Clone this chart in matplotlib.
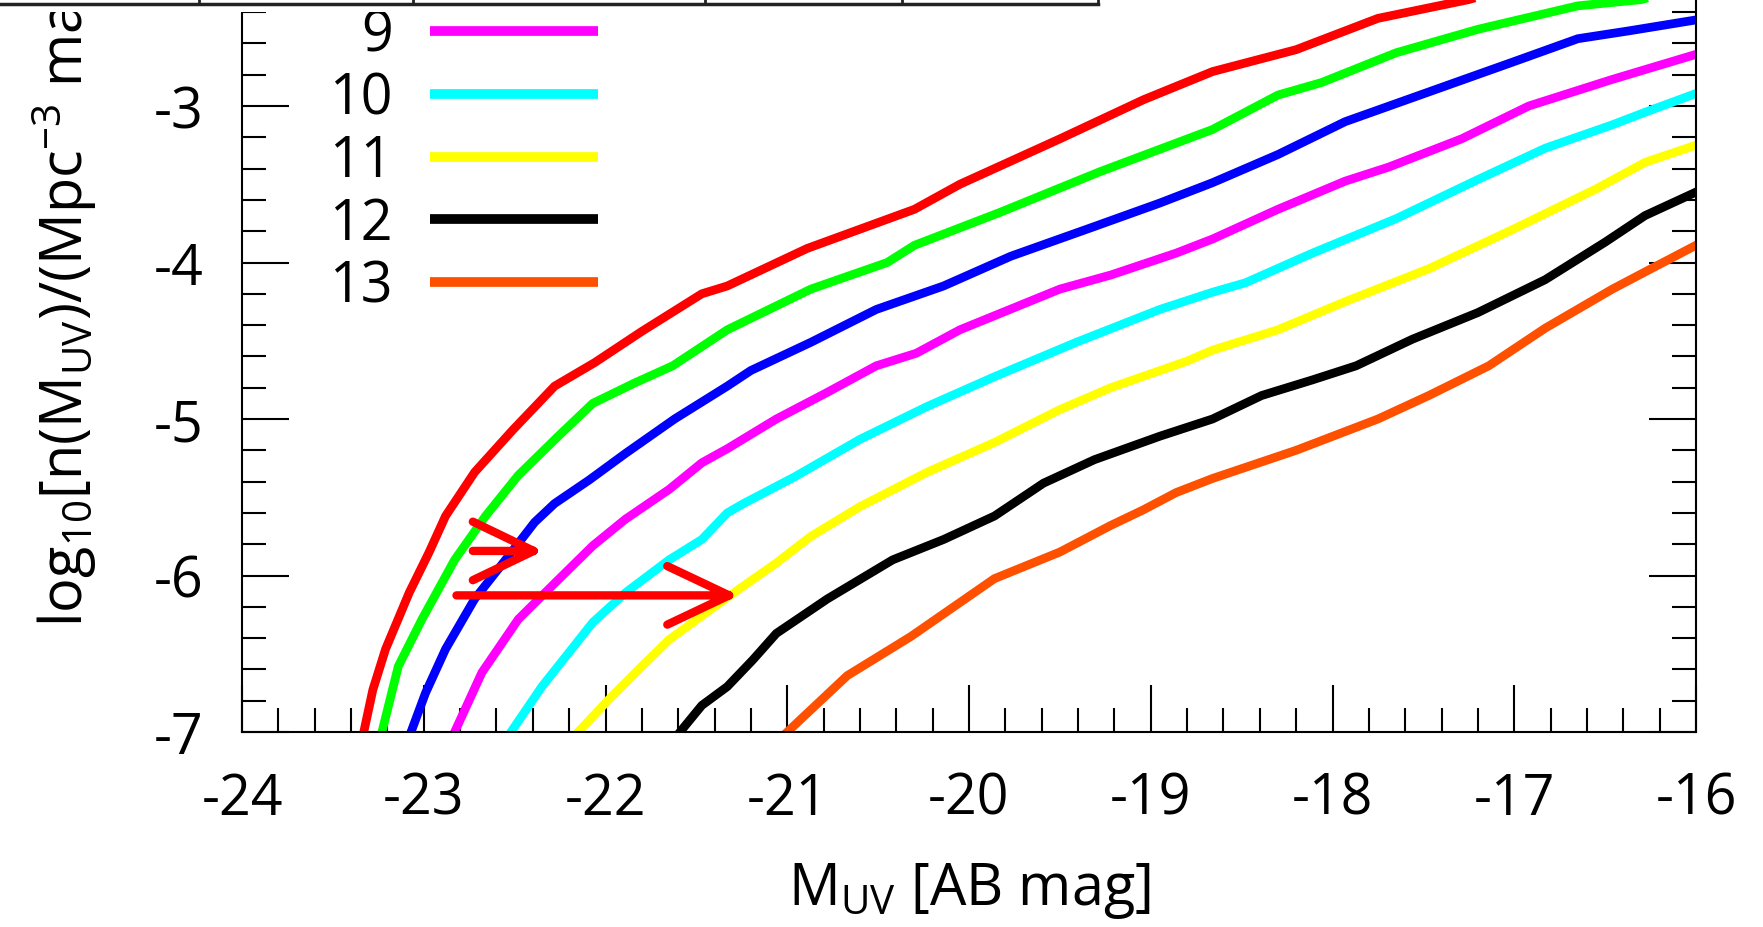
import matplotlib
matplotlib.use('Agg')
import matplotlib.pyplot as plt
from matplotlib.lines import Line2D
from matplotlib.patches import Rectangle
from matplotlib.ticker import MultipleLocator

plt.rcParams['font.family'] = ['Open Sans', 'DejaVu Sans']
plt.rcParams['mathtext.default'] = 'regular'
plt.rcParams['axes.unicode_minus'] = False

# UV luminosity functions, one curve per redshift
redshifts = ['6', '7', '8', '9', '10', '11', '12', '13']
colors = ['#ff0000', '#00ff00', '#0000ff', '#ff00ff', '#00ffff', '#ffff00', '#000000', '#ff5000']

muv_z6 = [-23.33, -23.28, -23.21, -23.08, -22.97, -22.88, -22.72, -22.51, -22.28, -22.06, -21.80,
          -21.47, -21.33, -20.89, -20.30, -20.05, -19.50, -19.04, -18.66, -18.20, -17.75, -17.25,
          -16.60, -16.00]
logn_z6 = [-7.00, -6.73, -6.47, -6.11, -5.85, -5.62, -5.34, -5.07, -4.79, -4.64, -4.44,
           -4.20, -4.15, -3.91, -3.66, -3.50, -3.21, -2.96, -2.78, -2.64, -2.44, -2.32,
           -2.10, -1.95]

muv_z7 = [-23.23, -23.14, -23.01, -22.83, -22.66, -22.48, -22.26, -22.07, -21.84, -21.63, -21.33,
          -20.87, -20.45, -20.30, -19.83, -19.28, -18.66, -18.30, -18.06, -17.65, -17.20, -16.65,
          -16.30, -16.00]
logn_z7 = [-7.00, -6.58, -6.28, -5.90, -5.62, -5.36, -5.11, -4.90, -4.77, -4.66, -4.43,
           -4.17, -4.00, -3.89, -3.68, -3.42, -3.15, -2.93, -2.85, -2.66, -2.51, -2.36,
           -2.32, -2.22]

muv_z8 = [-23.07, -22.99, -22.88, -22.72, -22.55, -22.39, -22.28, -22.09, -21.89, -21.62, -21.33,
          -21.20, -20.87, -20.51, -20.14, -19.77, -19.31, -18.95, -18.66, -18.30, -17.93, -17.47,
          -17.01, -16.65, -16.37, -16.00]
logn_z8 = [-7.00, -6.75, -6.47, -6.15, -5.90, -5.66, -5.54, -5.39, -5.22, -5.00, -4.79,
           -4.69, -4.51, -4.30, -4.15, -3.96, -3.77, -3.62, -3.49, -3.31, -3.10, -2.91,
           -2.72, -2.57, -2.52, -2.45]

muv_z9 = [-22.83, -22.68, -22.48, -22.28, -22.07, -21.89, -21.65, -21.47, -21.33, -21.06, -20.78,
          -20.51, -20.29, -20.05, -19.50, -19.22, -18.86, -18.66, -18.30, -17.93, -17.69, -17.29,
          -16.92, -16.46, -16.00]
logn_z9 = [-7.00, -6.62, -6.28, -6.05, -5.81, -5.64, -5.45, -5.28, -5.19, -5.00, -4.83,
           -4.66, -4.58, -4.43, -4.17, -4.08, -3.94, -3.85, -3.66, -3.48, -3.39, -3.21,
           -3.00, -2.83, -2.67]

muv_z10 = [-22.52, -22.35, -22.07, -21.89, -21.65, -21.47, -21.33, -21.24, -20.96, -20.60, -20.23,
           -19.86, -19.41, -18.95, -18.66, -18.48, -18.11, -17.65, -17.20, -16.83, -16.46, -16.28,
           -16.00]
logn_z10 = [-7.00, -6.71, -6.30, -6.11, -5.90, -5.77, -5.60, -5.54, -5.37, -5.13, -4.92,
            -4.73, -4.51, -4.30, -4.19, -4.13, -3.94, -3.72, -3.47, -3.27, -3.12, -3.04,
            -2.92]

muv_z11 = [-22.15, -21.98, -21.80, -21.65, -21.33, -21.06, -20.87, -20.60, -20.23, -19.86, -19.50,
           -19.22, -18.80, -18.66, -18.30, -17.93, -17.47, -17.01, -16.55, -16.28, -16.00]
logn_z11 = [-7.00, -6.79, -6.58, -6.41, -6.14, -5.92, -5.75, -5.56, -5.34, -5.15, -4.94,
            -4.80, -4.63, -4.56, -4.43, -4.25, -4.04, -3.79, -3.53, -3.36, -3.25]

muv_z12 = [-21.59, -21.47, -21.33, -21.19, -21.06, -20.78, -20.42, -20.14, -19.86, -19.59, -19.31,
           -18.95, -18.66, -18.39, -18.11, -17.87, -17.56, -17.20, -16.83, -16.50, -16.28, -16.00]
logn_z12 = [-7.00, -6.83, -6.71, -6.54, -6.37, -6.15, -5.90, -5.77, -5.62, -5.41, -5.26,
            -5.11, -5.00, -4.85, -4.75, -4.66, -4.49, -4.32, -4.11, -3.87, -3.70, -3.55]

muv_z13 = [-21.00, -20.67, -20.32, -19.86, -19.50, -19.22, -19.04, -18.86, -18.66, -18.20, -17.75,
           -17.47, -17.14, -16.83, -16.46, -16.28, -16.00]
logn_z13 = [-7.00, -6.64, -6.39, -6.02, -5.85, -5.68, -5.58, -5.47, -5.38, -5.20, -5.00,
            -4.85, -4.66, -4.42, -4.17, -4.06, -3.89]

muv_all = [muv_z6, muv_z7, muv_z8, muv_z9, muv_z10, muv_z11, muv_z12, muv_z13]
logn_all = [logn_z6, logn_z7, logn_z8, logn_z9, logn_z10, logn_z11, logn_z12, logn_z13]

# red arrows: (tail x, tip x, head base x, y)
arrows = [(-22.73, -22.395, -22.73, -5.843),
          (-22.82, -21.32, -21.66, -6.127)]
arrow_half = 0.187

W, H = 1763, 928
fig = plt.figure(figsize=(W / 100, H / 100), dpi=100)
ax = fig.add_axes([242 / W, (H - 733) / H, 1454 / W, 782.5 / H])

for z, c, xs, ys in zip(redshifts, colors, muv_all, logn_all):
    ax.plot(xs, ys, color=c, lw=6.3, label=z, solid_joinstyle='round')

for x0, x1, xb, y in arrows:
    ax.plot([x0, x1, float('nan'), xb, x1, xb],
            [y, y, float('nan'), y + arrow_half, y, y - arrow_half],
            color='#ff0000', lw=6, solid_capstyle='round', solid_joinstyle='round')

ax.set_xlim(-24, -16)
ax.set_ylim(-7, -2)
ax.xaxis.set_major_locator(MultipleLocator(1))
ax.xaxis.set_minor_locator(MultipleLocator(0.2))
ax.yaxis.set_major_locator(MultipleLocator(1))
ax.yaxis.set_minor_locator(MultipleLocator(0.2))
ax.tick_params(which='both', direction='in', top=True, right=True, width=1.5,
               labelsize=40, pad=28)
ax.tick_params(which='major', length=34)
ax.tick_params(which='minor', length=17)
for s in ax.spines.values():
    s.set_linewidth(1.5)

ax.set_xlabel('M$_{UV}$ [AB mag]', fontsize=41.5)
ax.xaxis.label.set_va('baseline')
ax.xaxis.set_label_coords(0.5, -0.2198)

ax.set_ylabel('log$_{10}$[n(M$_{UV}$)/(Mpc$^{-3}$ mag$^{-1}$)]', fontsize=41.5)
ax.yaxis.label.set_ha('left')
ax.yaxis.label.set_va('baseline')
ax.yaxis.set_label_coords(-0.1094, 0.1355)

leg = ax.legend(loc='lower right', bbox_to_anchor=(0.2448, 0.532), markerfirst=False,
                frameon=False, fontsize=40, handlelength=3.02, handletextpad=0.67,
                labelspacing=0.105, borderpad=0, borderaxespad=0)
for ln in leg.get_lines():
    ln.set_linewidth(7)
    ln.set_solid_capstyle('butt')

# table edge running across the top
fig.add_artist(Rectangle((0, 1 - 12.5 / H), 1100 / W, 12.5 / H, transform=fig.transFigure,
                         facecolor='white', edgecolor='none', zorder=5))
fig.add_artist(Line2D([0, 1098 / W], [1 - 5 / H, 1 - 5 / H], transform=fig.transFigure,
                      color='#222222', lw=2.5, zorder=6))
for px in [199, 413, 705, 902, 1098]:
    fig.add_artist(Line2D([px / W, px / W], [1, 1 - 5 / H], transform=fig.transFigure,
                          color='#222222', lw=2, zorder=6))

fig.savefig('out.png', dpi=100)
